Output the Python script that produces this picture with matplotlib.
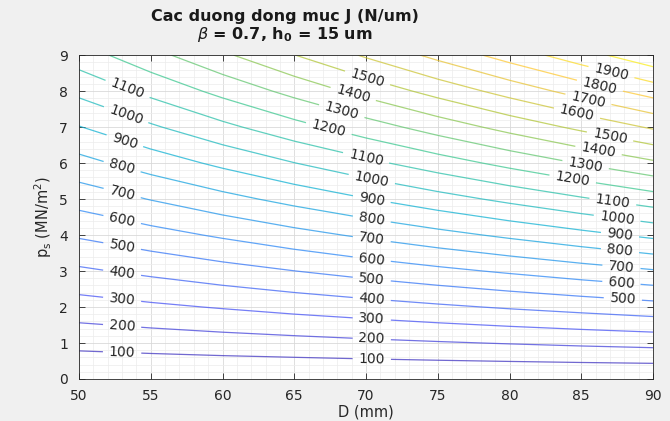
import numpy as np
import matplotlib.pyplot as plt
from matplotlib.colors import LinearSegmentedColormap
from matplotlib.ticker import AutoMinorLocator

plt.rcParams['font.family'] = ['DejaVu Sans']

# grid: D (mm), ps (MN/m^2), J (N/um)
D = [50, 55, 60, 65, 70, 75, 80, 85, 90]
ps = [0, 1, 2, 3, 4, 5, 6, 7, 8, 9]
J = [
    [0, 0, 0, 0, 0, 0, 0, 0, 0],
    [128, 141, 154, 166, 179, 192, 205, 218, 230],
    [256, 282, 307, 333, 358, 384, 410, 435, 461],
    [384, 422, 461, 499, 538, 576, 614, 653, 691],
    [512, 563, 614, 666, 717, 768, 819, 870, 922],
    [640, 704, 768, 832, 896, 960, 1024, 1088, 1152],
    [768, 845, 922, 998, 1075, 1152, 1229, 1306, 1382],
    [896, 986, 1075, 1165, 1254, 1344, 1434, 1523, 1613],
    [1024, 1126, 1229, 1331, 1434, 1536, 1638, 1741, 1843],
    [1152, 1267, 1382, 1498, 1613, 1728, 1843, 1958, 2074],
]
levels = list(range(100, 2001, 100))

# MATLAB parula, approximate
parula = LinearSegmentedColormap.from_list('parula', [
    (0.2422, 0.1504, 0.6603), (0.2810, 0.3228, 0.9579),
    (0.1786, 0.5289, 0.9682), (0.0689, 0.6948, 0.8394),
    (0.2161, 0.7843, 0.5923), (0.6720, 0.7793, 0.2227),
    (0.9970, 0.7659, 0.2199), (0.9769, 0.9839, 0.0805)])

fig = plt.figure(figsize=(6.7, 4.21), dpi=100, facecolor='#f0f0f0')
ax = fig.add_axes([0.118, 0.0998, 0.8566, 0.7692])

Z = np.array(J)
cs = ax.contour(D, ps, Z, levels=levels, cmap=parula, vmin=0, vmax=Z.max(),
                linewidths=0.9, alpha=0.75)

label_pos = [
    (53, 0.74), (53, 1.47), (53, 2.21), (53, 2.95), (53, 3.69), (53, 4.42),
    (53, 5.16), (53, 5.90), (53.2, 6.63), (53.3, 7.37), (53.4, 8.08),
    (70.4, 0.555), (70.4, 1.11), (70.4, 1.665), (70.4, 2.22), (70.4, 2.775),
    (70.4, 3.33), (70.4, 3.885), (70.4, 4.44), (70.4, 4.995), (70.4, 5.55),
    (70.0, 6.14), (67.4, 6.95), (68.3, 7.43), (69.1, 7.91), (70.1, 8.36),
    (87.9, 2.22), (87.8, 2.67), (87.8, 3.11), (87.7, 3.56), (87.7, 4.01),
    (87.5, 4.46), (87.2, 4.93), (84.4, 5.55), (85.3, 5.95), (86.2, 6.34),
    (87.0, 6.73), (84.7, 7.38), (85.5, 7.77), (86.3, 8.15), (87.1, 8.52),
]
texts = ax.clabel(cs, levels[:19], manual=label_pos, inline=True,
                  inline_spacing=6, fontsize=10, fmt='%d')
for t in texts:
    t.set_color('#262626')
    t.set_alpha(1)

ax.set_xlim(50, 90)
ax.set_ylim(0, 9)
ax.set_xticks(range(50, 91, 5))
ax.set_yticks(range(0, 10))
ax.xaxis.set_minor_locator(AutoMinorLocator(5))
ax.yaxis.set_minor_locator(AutoMinorLocator(5))
ax.grid(True, which='major', color='#d9d9d9', linewidth=0.6)
ax.grid(True, which='minor', color='#ececec', linewidth=0.5)
ax.set_axisbelow(True)
ax.tick_params(which='both', direction='in', top=True, right=True,
               colors='#262626', labelsize=10)
ax.tick_params(axis='x', which='major', pad=7)
ax.tick_params(axis='y', which='major', pad=8)
ax.tick_params(which='major', length=4, width=0.6)
ax.tick_params(which='minor', length=0)
for s in ax.spines.values():
    s.set_color('#262626')
    s.set_linewidth(0.6)

ax.set_xlabel('D (mm)', fontsize=10.5, color='#262626', labelpad=1)
ax.set_ylabel(r'p$_\mathrm{s}$ (MN/m$^2$)', fontsize=10.5, color='#262626',
              labelpad=4)
fig.text(285 / 670, 1 - 9 / 421,
         'Cac duong dong muc J (N/um)\n'
         r'$\beta$ = 0.7, h$_\mathbf{0}$ = 15 um',
         ha='center', va='top', fontsize=11.5, fontweight='bold',
         color='#1a1a1a', linespacing=1.05)

fig.savefig('out.png', dpi=100, facecolor=fig.get_facecolor())
